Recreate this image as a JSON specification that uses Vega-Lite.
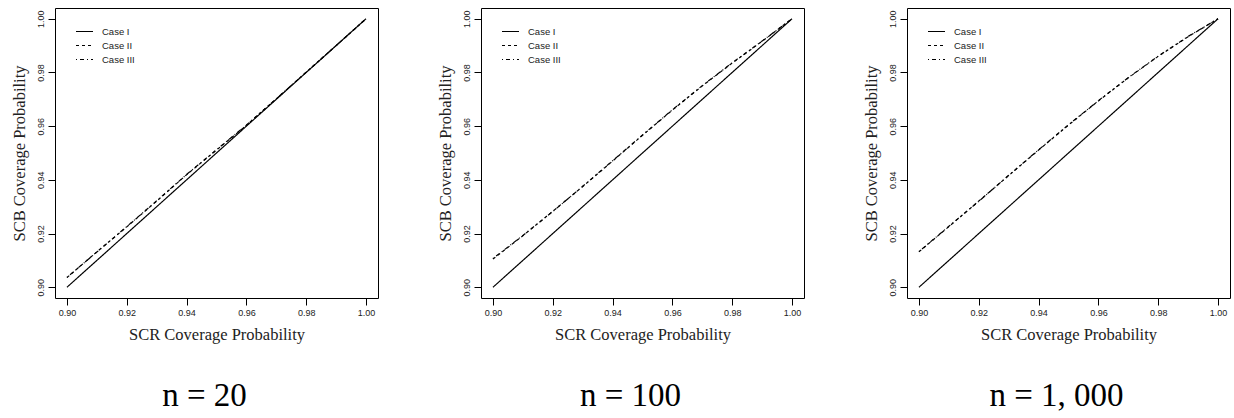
{
  "$schema": "https://vega.github.io/schema/vega-lite/v6.json",
  "background": "white",
  "autosize": {"type": "pad"},
  "padding": {"left": 10, "top": 7, "right": 5, "bottom": 5},
  "spacing": 57,
  "datasets": {
    "cov": [
      {"n": 20, "case": "Case I", "x": 0.90, "y": 0.90},
      {"n": 20, "case": "Case I", "x": 0.91, "y": 0.91},
      {"n": 20, "case": "Case I", "x": 0.92, "y": 0.92},
      {"n": 20, "case": "Case I", "x": 0.93, "y": 0.93},
      {"n": 20, "case": "Case I", "x": 0.94, "y": 0.94},
      {"n": 20, "case": "Case I", "x": 0.95, "y": 0.95},
      {"n": 20, "case": "Case I", "x": 0.96, "y": 0.96},
      {"n": 20, "case": "Case I", "x": 0.97, "y": 0.97},
      {"n": 20, "case": "Case I", "x": 0.98, "y": 0.98},
      {"n": 20, "case": "Case I", "x": 0.99, "y": 0.99},
      {"n": 20, "case": "Case I", "x": 1.00, "y": 1.00},
      {"n": 20, "case": "Case II", "x": 0.90, "y": 0.9036},
      {"n": 20, "case": "Case II", "x": 0.91, "y": 0.9132},
      {"n": 20, "case": "Case II", "x": 0.92, "y": 0.9225},
      {"n": 20, "case": "Case II", "x": 0.93, "y": 0.9321},
      {"n": 20, "case": "Case II", "x": 0.94, "y": 0.9419},
      {"n": 20, "case": "Case II", "x": 0.95, "y": 0.9511},
      {"n": 20, "case": "Case II", "x": 0.96, "y": 0.9603},
      {"n": 20, "case": "Case II", "x": 0.97, "y": 0.9702},
      {"n": 20, "case": "Case II", "x": 0.98, "y": 0.9801},
      {"n": 20, "case": "Case II", "x": 0.99, "y": 0.9900},
      {"n": 20, "case": "Case II", "x": 1.00, "y": 1.0000},
      {"n": 20, "case": "Case III", "x": 0.90, "y": 0.9037},
      {"n": 20, "case": "Case III", "x": 0.91, "y": 0.9131},
      {"n": 20, "case": "Case III", "x": 0.92, "y": 0.9226},
      {"n": 20, "case": "Case III", "x": 0.93, "y": 0.9322},
      {"n": 20, "case": "Case III", "x": 0.94, "y": 0.9420},
      {"n": 20, "case": "Case III", "x": 0.95, "y": 0.9512},
      {"n": 20, "case": "Case III", "x": 0.96, "y": 0.9604},
      {"n": 20, "case": "Case III", "x": 0.97, "y": 0.9702},
      {"n": 20, "case": "Case III", "x": 0.98, "y": 0.9801},
      {"n": 20, "case": "Case III", "x": 0.99, "y": 0.9900},
      {"n": 20, "case": "Case III", "x": 1.00, "y": 1.0000},
      {"n": 100, "case": "Case I", "x": 0.90, "y": 0.90},
      {"n": 100, "case": "Case I", "x": 0.91, "y": 0.91},
      {"n": 100, "case": "Case I", "x": 0.92, "y": 0.92},
      {"n": 100, "case": "Case I", "x": 0.93, "y": 0.93},
      {"n": 100, "case": "Case I", "x": 0.94, "y": 0.94},
      {"n": 100, "case": "Case I", "x": 0.95, "y": 0.95},
      {"n": 100, "case": "Case I", "x": 0.96, "y": 0.96},
      {"n": 100, "case": "Case I", "x": 0.97, "y": 0.97},
      {"n": 100, "case": "Case I", "x": 0.98, "y": 0.98},
      {"n": 100, "case": "Case I", "x": 0.99, "y": 0.99},
      {"n": 100, "case": "Case I", "x": 1.00, "y": 1.00},
      {"n": 100, "case": "Case II", "x": 0.90, "y": 0.9105},
      {"n": 100, "case": "Case II", "x": 0.91, "y": 0.9192},
      {"n": 100, "case": "Case II", "x": 0.92, "y": 0.9283},
      {"n": 100, "case": "Case II", "x": 0.93, "y": 0.9375},
      {"n": 100, "case": "Case II", "x": 0.94, "y": 0.9470},
      {"n": 100, "case": "Case II", "x": 0.95, "y": 0.9566},
      {"n": 100, "case": "Case II", "x": 0.96, "y": 0.9660},
      {"n": 100, "case": "Case II", "x": 0.97, "y": 0.9750},
      {"n": 100, "case": "Case II", "x": 0.98, "y": 0.9835},
      {"n": 100, "case": "Case II", "x": 0.99, "y": 0.9916},
      {"n": 100, "case": "Case II", "x": 1.00, "y": 1.0000},
      {"n": 100, "case": "Case III", "x": 0.90, "y": 0.9107},
      {"n": 100, "case": "Case III", "x": 0.91, "y": 0.9193},
      {"n": 100, "case": "Case III", "x": 0.92, "y": 0.9282},
      {"n": 100, "case": "Case III", "x": 0.93, "y": 0.9376},
      {"n": 100, "case": "Case III", "x": 0.94, "y": 0.9471},
      {"n": 100, "case": "Case III", "x": 0.95, "y": 0.9567},
      {"n": 100, "case": "Case III", "x": 0.96, "y": 0.9661},
      {"n": 100, "case": "Case III", "x": 0.97, "y": 0.9751},
      {"n": 100, "case": "Case III", "x": 0.98, "y": 0.9836},
      {"n": 100, "case": "Case III", "x": 0.99, "y": 0.9917},
      {"n": 100, "case": "Case III", "x": 1.00, "y": 1.0000},
      {"n": 1000, "case": "Case I", "x": 0.90, "y": 0.90},
      {"n": 1000, "case": "Case I", "x": 0.91, "y": 0.91},
      {"n": 1000, "case": "Case I", "x": 0.92, "y": 0.92},
      {"n": 1000, "case": "Case I", "x": 0.93, "y": 0.93},
      {"n": 1000, "case": "Case I", "x": 0.94, "y": 0.94},
      {"n": 1000, "case": "Case I", "x": 0.95, "y": 0.95},
      {"n": 1000, "case": "Case I", "x": 0.96, "y": 0.96},
      {"n": 1000, "case": "Case I", "x": 0.97, "y": 0.97},
      {"n": 1000, "case": "Case I", "x": 0.98, "y": 0.98},
      {"n": 1000, "case": "Case I", "x": 0.99, "y": 0.99},
      {"n": 1000, "case": "Case I", "x": 1.00, "y": 1.00},
      {"n": 1000, "case": "Case II", "x": 0.90, "y": 0.9132},
      {"n": 1000, "case": "Case II", "x": 0.91, "y": 0.9226},
      {"n": 1000, "case": "Case II", "x": 0.92, "y": 0.9321},
      {"n": 1000, "case": "Case II", "x": 0.93, "y": 0.9416},
      {"n": 1000, "case": "Case II", "x": 0.94, "y": 0.9511},
      {"n": 1000, "case": "Case II", "x": 0.95, "y": 0.9604},
      {"n": 1000, "case": "Case II", "x": 0.96, "y": 0.9694},
      {"n": 1000, "case": "Case II", "x": 0.97, "y": 0.9780},
      {"n": 1000, "case": "Case II", "x": 0.98, "y": 0.9860},
      {"n": 1000, "case": "Case II", "x": 0.99, "y": 0.9933},
      {"n": 1000, "case": "Case II", "x": 1.00, "y": 1.0000},
      {"n": 1000, "case": "Case III", "x": 0.90, "y": 0.9133},
      {"n": 1000, "case": "Case III", "x": 0.91, "y": 0.9227},
      {"n": 1000, "case": "Case III", "x": 0.92, "y": 0.9320},
      {"n": 1000, "case": "Case III", "x": 0.93, "y": 0.9417},
      {"n": 1000, "case": "Case III", "x": 0.94, "y": 0.9512},
      {"n": 1000, "case": "Case III", "x": 0.95, "y": 0.9605},
      {"n": 1000, "case": "Case III", "x": 0.96, "y": 0.9695},
      {"n": 1000, "case": "Case III", "x": 0.97, "y": 0.9781},
      {"n": 1000, "case": "Case III", "x": 0.98, "y": 0.9861},
      {"n": 1000, "case": "Case III", "x": 0.99, "y": 0.9934},
      {"n": 1000, "case": "Case III", "x": 1.00, "y": 1.0000}
    ]
  },
  "config": {
    "view": {"stroke": "black", "strokeWidth": 1},
    "axis": {
      "domain": false,
      "grid": false,
      "tickColor": "black",
      "tickSize": 7,
      "tickWidth": 1,
      "labelFont": "Liberation Sans",
      "labelFontSize": 9,
      "labelColor": "#222222",
      "labelPadding": 3,
      "titleFont": "Liberation Serif",
      "titleFontSize": 16.5,
      "titleFontWeight": "normal",
      "titleColor": "#222222",
      "titlePadding": 9
    },
    "legend": {
      "orient": "none",
      "legendX": 20,
      "legendY": 14,
      "title": null,
      "symbolType": "stroke",
      "symbolSize": 289,
      "symbolStrokeColor": "black",
      "symbolStrokeWidth": 1.1,
      "labelFont": "Liberation Sans",
      "labelFontSize": 9.5,
      "labelColor": "#222222",
      "labelOffset": 8,
      "rowPadding": -7,
      "padding": 0
    },
    "title": {
      "font": "Liberation Serif",
      "fontSize": 33,
      "fontWeight": "normal",
      "color": "black",
      "orient": "bottom",
      "anchor": "middle",
      "frame": "group",
      "dx": -12,
      "offset": 37
    }
  },
  "resolve": {"legend": {"strokeDash": "independent"}, "scale": {"strokeDash": "independent"}},
  "hconcat": [
    {
      "width": 323, "height": 290,
      "title": {"text": "n = 20"},
      "data": {"name": "cov"},
      "transform": [{"filter": "datum.n == 20"}],
      "mark": {"type": "line", "color": "black", "strokeWidth": 1.2},
      "encoding": {
        "x": {"field": "x", "type": "quantitative", "scale": {"domain": [0.896, 1.004], "nice": false, "zero": false}, "axis": {"values": [0.90, 0.92, 0.94, 0.96, 0.98, 1.00], "format": ".2f", "title": "SCR Coverage Probability"}},
        "y": {"field": "y", "type": "quantitative", "scale": {"domain": [0.896, 1.004], "nice": false, "zero": false}, "axis": {"values": [0.90, 0.92, 0.94, 0.96, 0.98, 1.00], "format": ".2f", "labelAngle": -90, "title": "SCB Coverage Probability"}},
        "strokeDash": {"field": "case", "type": "nominal", "scale": {"domain": ["Case I", "Case II", "Case III"], "range": [[1, 0], [3, 3], [1, 3, 4, 3]]}}
      }
    },
    {
      "width": 323, "height": 290,
      "title": {"text": "n = 100"},
      "data": {"name": "cov"},
      "transform": [{"filter": "datum.n == 100"}],
      "mark": {"type": "line", "color": "black", "strokeWidth": 1.2},
      "encoding": {
        "x": {"field": "x", "type": "quantitative", "scale": {"domain": [0.896, 1.004], "nice": false, "zero": false}, "axis": {"values": [0.90, 0.92, 0.94, 0.96, 0.98, 1.00], "format": ".2f", "title": "SCR Coverage Probability"}},
        "y": {"field": "y", "type": "quantitative", "scale": {"domain": [0.896, 1.004], "nice": false, "zero": false}, "axis": {"values": [0.90, 0.92, 0.94, 0.96, 0.98, 1.00], "format": ".2f", "labelAngle": -90, "title": "SCB Coverage Probability"}},
        "strokeDash": {"field": "case", "type": "nominal", "scale": {"domain": ["Case I", "Case II", "Case III"], "range": [[1, 0], [3, 3], [1, 3, 4, 3]]}}
      }
    },
    {
      "width": 323, "height": 290,
      "title": {"text": "n = 1, 000"},
      "data": {"name": "cov"},
      "transform": [{"filter": "datum.n == 1000"}],
      "mark": {"type": "line", "color": "black", "strokeWidth": 1.2},
      "encoding": {
        "x": {"field": "x", "type": "quantitative", "scale": {"domain": [0.896, 1.004], "nice": false, "zero": false}, "axis": {"values": [0.90, 0.92, 0.94, 0.96, 0.98, 1.00], "format": ".2f", "title": "SCR Coverage Probability"}},
        "y": {"field": "y", "type": "quantitative", "scale": {"domain": [0.896, 1.004], "nice": false, "zero": false}, "axis": {"values": [0.90, 0.92, 0.94, 0.96, 0.98, 1.00], "format": ".2f", "labelAngle": -90, "title": "SCB Coverage Probability"}},
        "strokeDash": {"field": "case", "type": "nominal", "scale": {"domain": ["Case I", "Case II", "Case III"], "range": [[1, 0], [3, 3], [1, 3, 4, 3]]}}
      }
    }
  ]
}
